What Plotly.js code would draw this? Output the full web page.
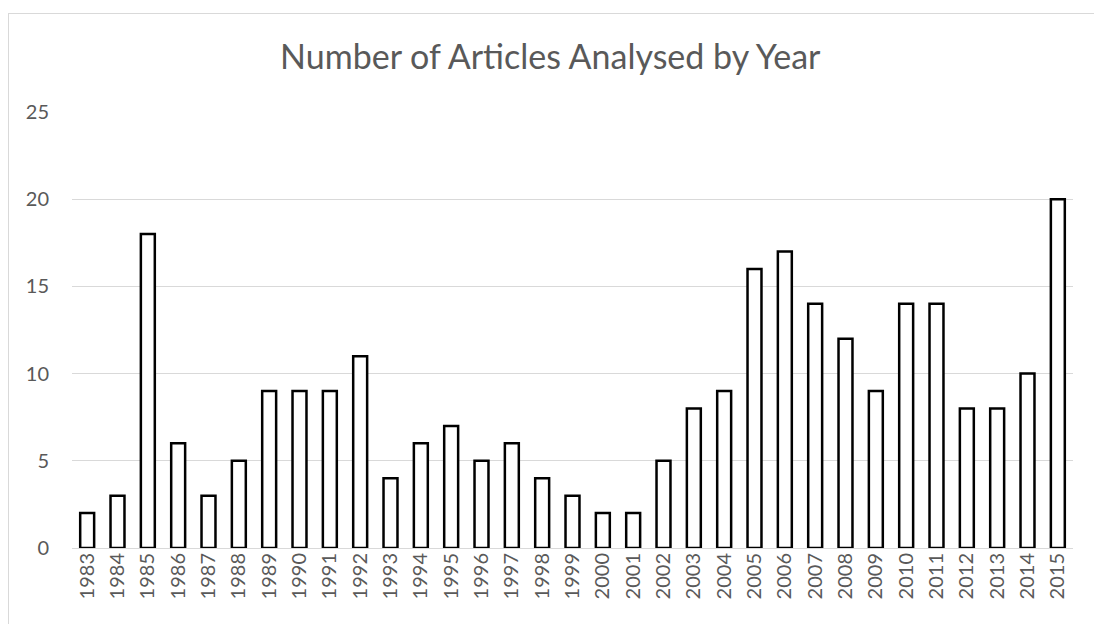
<!DOCTYPE html>
<html>
<head>
<meta charset="utf-8">
<script src="https://cdn.plot.ly/plotly-3.0.1.min.js"></script>
<style>
html,body{margin:0;padding:0;background:#fff;overflow:hidden;}
#wrap{position:relative;width:1094px;height:624px;}
#chart{position:absolute;left:0;top:0;width:1094px;height:624px;}
#frame{position:absolute;left:8px;top:13px;width:1200px;height:700px;border:1px solid #d9d9d9;pointer-events:none;}
</style>
</head>
<body>
<div id="wrap"><div id="chart"></div><div id="frame"></div></div>
<script>
const years = ["1983","1984","1985","1986","1987","1988","1989","1990","1991","1992","1993","1994","1995","1996","1997","1998","1999","2000","2001","2002","2003","2004","2005","2006","2007","2008","2009","2010","2011","2012","2013","2014","2015"];
const articles = [2,3,18,6,3,5,9,9,9,11,4,6,7,5,6,4,3,2,2,5,8,9,16,17,14,12,9,14,14,8,8,10,20];
const yTicks = [0,5,10,15,20,25];
const chartTitle = "Number of Articles Analysed by Year";

const trace = {
  type: 'bar',
  x: years,
  y: articles,
  marker: {color: '#ffffff', line: {color: '#000000', width: 2.5}},
  hoverinfo: 'x+y'
};

const layout = {
  width: 1094,
  height: 624,
  paper_bgcolor: 'rgba(0,0,0,0)',
  plot_bgcolor: '#ffffff',
  margin: {l: 72, r: 21, t: 112, b: 76, pad: 0},
  bargap: 0.54,
  showlegend: false,
  font: {family: 'Lato, "Open Sans", sans-serif', color: '#595959', size: 20},
  title: {
    text: chartTitle,
    font: {size: 34, color: '#595959', family: 'Lato, "Open Sans", sans-serif'},
    x: 0.503, xref: 'container', xanchor: 'center',
    y: 1 - 57/624, yref: 'container', yanchor: 'middle'
  },
  xaxis: {
    type: 'category',
    tickangle: -90,
    showgrid: false,
    showline: false,
    zeroline: false,
    ticks: '',
    tickfont: {size: 20, color: '#595959'},
    fixedrange: true
  },
  yaxis: {
    range: [0, 25],
    tickvals: yTicks,
    ticktext: yTicks.map(String),
    showgrid: true,
    gridcolor: '#d9d9d9',
    gridwidth: 1,
    zeroline: true,
    zerolinecolor: '#d9d9d9',
    zerolinewidth: 1,
    showline: false,
    ticks: '',
    ticklabelstandoff: 22,
    tickfont: {size: 20, color: '#595959'},
    fixedrange: true
  }
};

Plotly.newPlot('chart', [trace], layout, {displayModeBar: false, staticPlot: true});
</script>
</body>
</html>
